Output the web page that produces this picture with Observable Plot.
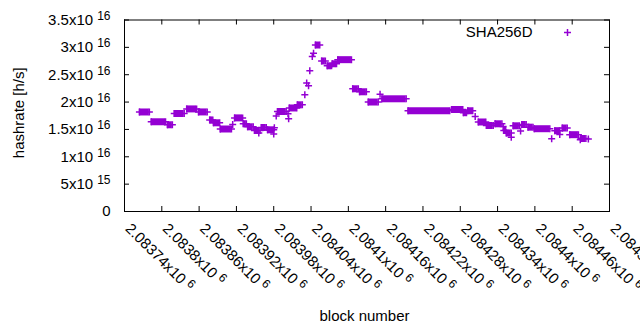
<!DOCTYPE html>
<html><head><meta charset="utf-8">
<script src="https://cdn.jsdelivr.net/npm/d3@7"></script>
<script src="https://cdn.jsdelivr.net/npm/@observablehq/plot@0.6"></script>
<style>
html,body{margin:0;padding:0;background:#fff;}
</style></head><body><div id="chart"></div>
<script>
// Plateaus of the SHA256D hashrate series (first block, last block, hashrate in h/s)
const segStart = [2083764,2083783,2083809,2083820,2083840,2083859,2083877,2083883,2083894,2083914,2083917,2083931,2083938,2083949,2083956,2083960,2083970,2083980,2083981,2083984,2083986,2084003,2084004,2084005,2084018,2084030,2084033,2084036,2084038,2084042,2084044,2084047,2084057,2084066,2084074,2084083,2084107,2084118,2084132,2084151,2084154,2084196,2084266,2084285,2084292,2084304,2084309,2084322,2084336,2084349,2084350,2084354,2084362,2084365,2084377,2084379,2084389,2084399,2084427,2084432,2084440,2084444,2084456,2084473,2084474,2084486];
const segEnd   = [2083780,2083806,2083817,2083836,2083856,2083873,2083882,2083893,2083912,2083914,2083930,2083936,2083947,2083958,2083956,2083968,2083980,2083980,2083981,2083984,2084000,2084003,2084004,2084017,2084026,2084030,2084033,2084036,2084038,2084042,2084044,2084054,2084063,2084073,2084081,2084105,2084116,2084129,2084148,2084151,2084193,2084263,2084284,2084290,2084300,2084304,2084321,2084333,2084347,2084349,2084353,2084362,2084362,2084375,2084377,2084386,2084397,2084424,2084427,2084440,2084440,2084452,2084470,2084473,2084482,2084486];
const segValue = [1.819e16,1.640e16,1.585e16,1.791e16,1.875e16,1.820e16,1.674e16,1.621e16,1.508e16,1.590e16,1.711e16,1.605e16,1.548e16,1.481e16,1.435e16,1.535e16,1.493e16,1.417e16,1.530e16,1.746e16,1.828e16,1.786e16,1.694e16,1.892e16,1.950e16,2.135e16,2.349e16,2.298e16,2.572e16,2.833e16,2.892e16,3.043e16,2.751e16,2.663e16,2.700e16,2.775e16,2.243e16,2.188e16,2.001e16,2.144e16,2.060e16,1.841e16,1.864e16,1.806e16,1.841e16,1.735e16,1.636e16,1.572e16,1.603e16,1.554e16,1.481e16,1.435e16,1.358e16,1.566e16,1.471e16,1.590e16,1.541e16,1.513e16,1.329e16,1.477e16,1.407e16,1.526e16,1.404e16,1.311e16,1.334e16,1.325e16];

const xTickValues = [2083740,2083800,2083860,2083920,2083980,2084040,2084100,2084160,2084220,2084280,2084340,2084400,2084460,2084520];
const xTickLabels = ["2.08374x10^6","2.0838x10^6","2.08386x10^6","2.08392x10^6","2.08398x10^6","2.08404x10^6","2.0841x10^6","2.08416x10^6","2.08422x10^6","2.08428x10^6","2.08434x10^6","2.0844x10^6","2.08446x10^6","2.08452x10^6"];
const yTickValues = [0,5e15,1e16,1.5e16,2e16,2.5e16,3e16,3.5e16];
const yTickLabels = ["0","5x10^15","1x10^16","1.5x10^16","2x10^16","2.5x10^16","3x10^16","3.5x10^16"];
const seriesName = "SHA256D";
const xLabel = "block number";
const yLabel = "hashrate [h/s]";

const segments = segStart.map((s, i) => ({start: s, end: segEnd[i], value: segValue[i]}));
const points = segments.flatMap(d => d.start === d.end
  ? [{block: d.start, value: d.value}]
  : [{block: d.start, value: d.value}, {block: d.end, value: d.value}]);

const W = 640, H = 330, ML = 124, MR = 31, MT = 19.5, MB = 119;
const iw = W - ML - MR, ih = H - MT - MB;
const color = "#9400d3";
const font = "'Liberation Sans', Arial, sans-serif";
const plus = {draw(ctx) { const h = 3.5; ctx.moveTo(-h, 0); ctx.lineTo(h, 0); ctx.moveTo(0, -h); ctx.lineTo(0, h); }};

const chart = Plot.plot({
  width: W, height: H,
  marginLeft: ML, marginRight: MR, marginTop: MT, marginBottom: MB,
  style: {fontFamily: font, fontSize: "15px", background: "#fff", overflow: "visible"},
  x: {domain: [xTickValues[0], xTickValues[xTickValues.length - 1]], axis: null},
  y: {domain: [yTickValues[0], yTickValues[yTickValues.length - 1]], axis: null},
  marks: [
    Plot.ruleY(segments, {x1: "start", x2: "end", y: "value", stroke: color, strokeWidth: 7}),
    Plot.dot(points, {x: "block", y: "value", symbol: plus, stroke: color, strokeWidth: 1.5, fill: "none"}),
    Plot.frame({stroke: "#000", strokeWidth: 1}),
    Plot.ruleY(yTickValues, {y: d => d, insetRight: iw - 5, stroke: "#000"}),
    Plot.ruleY(yTickValues, {y: d => d, insetLeft: iw - 5, stroke: "#000"}),
    Plot.ruleX(xTickValues, {x: d => d, insetBottom: ih - 5, stroke: "#000"}),
    Plot.ruleX(xTickValues, {x: d => d, insetTop: ih - 5, stroke: "#000"}),
    Plot.text(yTickValues, {y: d => d, text: (d, i) => yTickLabels[i], frameAnchor: "left", textAnchor: "end", lineAnchor: "middle", dx: -14, fill: "#000", fontSize: 15}),
    Plot.text(xTickValues, {x: d => d, text: (d, i) => xTickLabels[i], frameAnchor: "bottom", textAnchor: "start", lineAnchor: "bottom", rotate: 45, dy: 18, fill: "#000", fontSize: 15}),
    Plot.text([yLabel], {text: d => d, frameAnchor: "left", dx: -105, dy: -3, rotate: -90, textAnchor: "middle", lineAnchor: "middle", fill: "#000", fontSize: 15}),
    Plot.text([xLabel], {text: d => d, frameAnchor: "bottom", dx: -2.5, dy: 109, textAnchor: "middle", lineAnchor: "bottom", fill: "#000", fontSize: 15}),
    Plot.text([seriesName], {text: d => d, frameAnchor: "top-right", dx: -77, dy: 12.5, textAnchor: "end", lineAnchor: "middle", fill: "#000", fontSize: 15}),
    Plot.dot([seriesName], {frameAnchor: "top-right", dx: -42, dy: 12.5, symbol: plus, stroke: color, strokeWidth: 1.5, fill: "none"})
  ]
});

// render "mantissa x10^exp" labels with a raised, smaller exponent
chart.querySelectorAll("text").forEach(t => {
  const s = t.textContent;
  const k = s.indexOf("^");
  if (k < 0) return;
  t.textContent = "";
  t.appendChild(document.createTextNode(s.slice(0, k)));
  const ts = document.createElementNS("http://www.w3.org/2000/svg", "tspan");
  ts.setAttribute("dx", "4");
  ts.setAttribute("dy", "-5");
  ts.setAttribute("font-size", "12");
  ts.textContent = s.slice(k + 1);
  t.appendChild(ts);
});

document.getElementById("chart").appendChild(chart);
</script>
</body></html>
